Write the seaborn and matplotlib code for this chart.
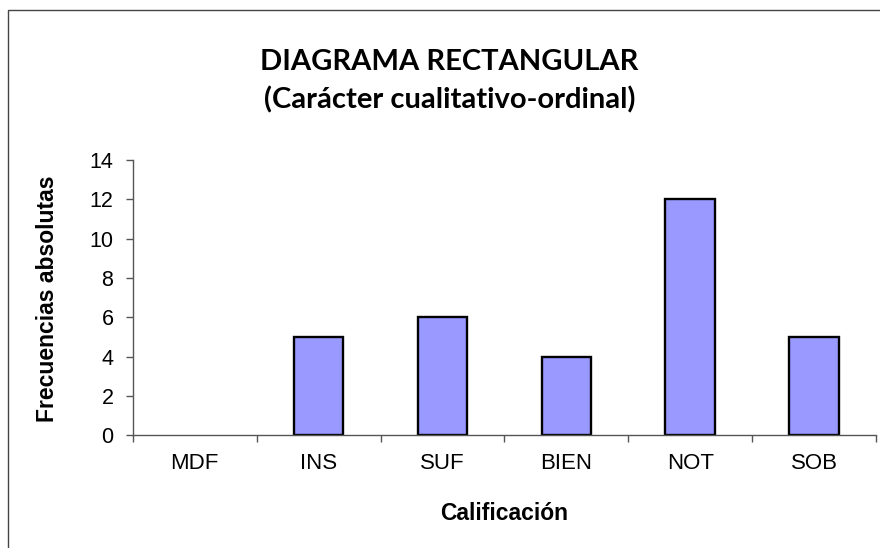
import matplotlib
matplotlib.use("Agg")
import matplotlib.pyplot as plt
import seaborn as sns
import pandas as pd
from matplotlib.patches import Rectangle

categorias = ["MDF", "INS", "SUF", "BIEN", "NOT", "SOB"]
frecuencias = [0, 5, 6, 4, 12, 5]

df = pd.DataFrame({"Calificación": categorias, "Frecuencias": frecuencias})

sns.set_style("white")
plt.rcParams['font.family'] = ['Liberation Sans', 'DejaVu Sans']
plt.rcParams['text.color'] = 'black'
plt.rcParams['axes.labelcolor'] = 'black'
plt.rcParams['xtick.color'] = 'black'
plt.rcParams['ytick.color'] = 'black'

fig = plt.figure(figsize=(8.8, 5.48), dpi=100)
ax = fig.add_axes([0.151, 0.206, 0.8445, 0.502])

sns.barplot(data=df, x="Calificación", y="Frecuencias", order=categorias,
            color="#9999FF", edgecolor="black", linewidth=1.7, width=0.4,
            saturation=1, ax=ax)
# barra de altura cero sin borde
for p in ax.patches:
    if p.get_height() == 0:
        p.set_linewidth(0)

ax.set_ylim(0, 14)
ax.set_yticks(range(0, 15, 2))
ax.set_xlim(-0.5, len(categorias) - 0.5)
ax.set_xticks([i - 0.5 for i in range(len(categorias) + 1)])
ax.set_xticklabels([])
ax.set_xticks(range(len(categorias)), minor=True)
ax.set_xticklabels(categorias, minor=True)
ax.tick_params(axis="x", which="major", bottom=True, length=5, width=1,
               color="#555555", direction="out")
ax.tick_params(axis="x", which="minor", bottom=True, length=0, pad=13, labelsize=16)
ax.tick_params(axis="y", left=True, length=5, width=1, color="#555555",
               direction="out", labelsize=15.5, pad=9)

for s in ["top", "right"]:
    ax.spines[s].set_visible(False)
for s in ["left", "bottom"]:
    ax.spines[s].set_color("#555555")
    ax.spines[s].set_linewidth(1)

ax.set_xlabel("Calificación", fontsize=16.5, fontweight="bold")
ax.set_ylabel("Frecuencias absolutas", fontsize=16.5, fontweight="bold")
ax.xaxis.set_label_coords(0.5, -0.244)
ax.yaxis.set_label_coords(-0.1, 0.496)

fig.text(0.511, 0.887, "DIAGRAMA RECTANGULAR", ha="center", va="center",
         fontsize=21, fontweight="bold", family=["Lato", "DejaVu Sans"])
fig.text(0.511, 0.817, "(Carácter cualitativo-ordinal)", ha="center", va="center",
         fontsize=21, fontweight="bold", family=["Lato", "DejaVu Sans"])

fig.patches.append(Rectangle((8 / 880, -0.1), 0.995, 1.1 - 10 / 548,
                             transform=fig.transFigure, fill=False,
                             edgecolor="#444444", linewidth=1))

fig.savefig("out.png", dpi=100)
